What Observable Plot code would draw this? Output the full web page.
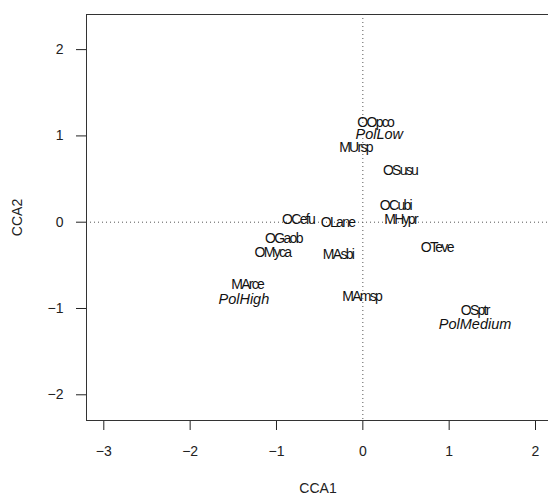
<!DOCTYPE html>
<html>
<head>
<meta charset="utf-8">
<script src="https://cdn.jsdelivr.net/npm/d3@7"></script>
<script src="https://cdn.jsdelivr.net/npm/@observablehq/plot@0.6"></script>
<style>
  html, body { margin: 0; padding: 0; background: white; overflow: hidden; }
</style>
</head>
<body>
<div id="chart"></div>
<script>
// Species scores
const species = ["OOpco","MUrsp","OSusu","OCubi","MHypr","OCefu","OLane","OGaob","OMyca","MAsbi","OTeve","MArce","MAmsp","OSptr"];
const speciesCCA1 = [0.144, -0.085, 0.431, 0.377, 0.437, -0.75, -0.293, -0.92, -1.046, -0.287, 0.856, -1.339, -0.013, 1.296];
const speciesCCA2 = [1.151, 0.87, 0.596, 0.194, 0.031, 0.026, -0.007, -0.186, -0.348, -0.37, -0.293, -0.726, -0.856, -1.019];

// Centroids of the factor levels
const centroids = ["PolLow","PolHigh","PolMedium"];
const centroidCCA1 = [0.191, -1.378, 1.30];
const centroidCCA2 = [1.017, -0.891, -1.187];

// Axis ticks
const xTicks = [-3, -2, -1, 0, 1, 2];
const yTicks = [-2, -1, 0, 1, 2];

const speciesData = species.map((s, i) => ({name: s, x: speciesCCA1[i], y: speciesCCA2[i]}));
const centroidData = centroids.map((s, i) => ({name: s, x: centroidCCA1[i], y: centroidCCA2[i]}));

const fmt = d => (d < 0 ? "\u2212" + Math.abs(d) : String(d));

const chart = Plot.plot({
  width: 550,
  height: 498,
  marginLeft: 86,
  marginRight: 1,
  marginTop: 14,
  marginBottom: 78,
  style: {
    fontFamily: "'Liberation Sans', Arial, Helvetica, sans-serif",
    fontSize: "14px",
    color: "#222",
    background: "white",
    maxWidth: "none",
    overflow: "visible"
  },
  x: {
    domain: [-3.2004, 2.162],
    ticks: xTicks,
    tickFormat: fmt,
    tickSize: 10,
    tickPadding: 16,
    label: "CCA1",
    labelAnchor: "center",
    labelOffset: 72,
    labelArrow: false
  },
  y: {
    domain: [-2.298, 2.407],
    ticks: yTicks,
    tickFormat: fmt,
    tickSize: 10,
    tickPadding: 13,
    label: "CCA2",
    labelAnchor: "center",
    labelOffset: 74,
    labelArrow: false
  },
  marks: [
    Plot.ruleX([0], {stroke: "#555", strokeDasharray: "1,3", strokeWidth: 1}),
    Plot.ruleY([0], {stroke: "#555", strokeDasharray: "1,3", strokeWidth: 1}),
    Plot.frame({stroke: "#333", strokeWidth: 1}),
    Plot.text(speciesData, {
      x: "x", y: "y", text: "name",
      fill: "#111", fontSize: 14
    }),
    Plot.text(centroidData, {
      x: "x", y: "y", text: "name",
      fill: "#111", fontSize: 14.5, fontStyle: "italic"
    })
  ]
});

// Tight letter spacing of the species labels, as in the reference rendering
d3.select(chart).selectAll("text")
  .filter(function () { return species.includes(this.textContent); })
  .style("letter-spacing", "-1.7px");

document.getElementById("chart").appendChild(chart);
</script>
</body>
</html>
